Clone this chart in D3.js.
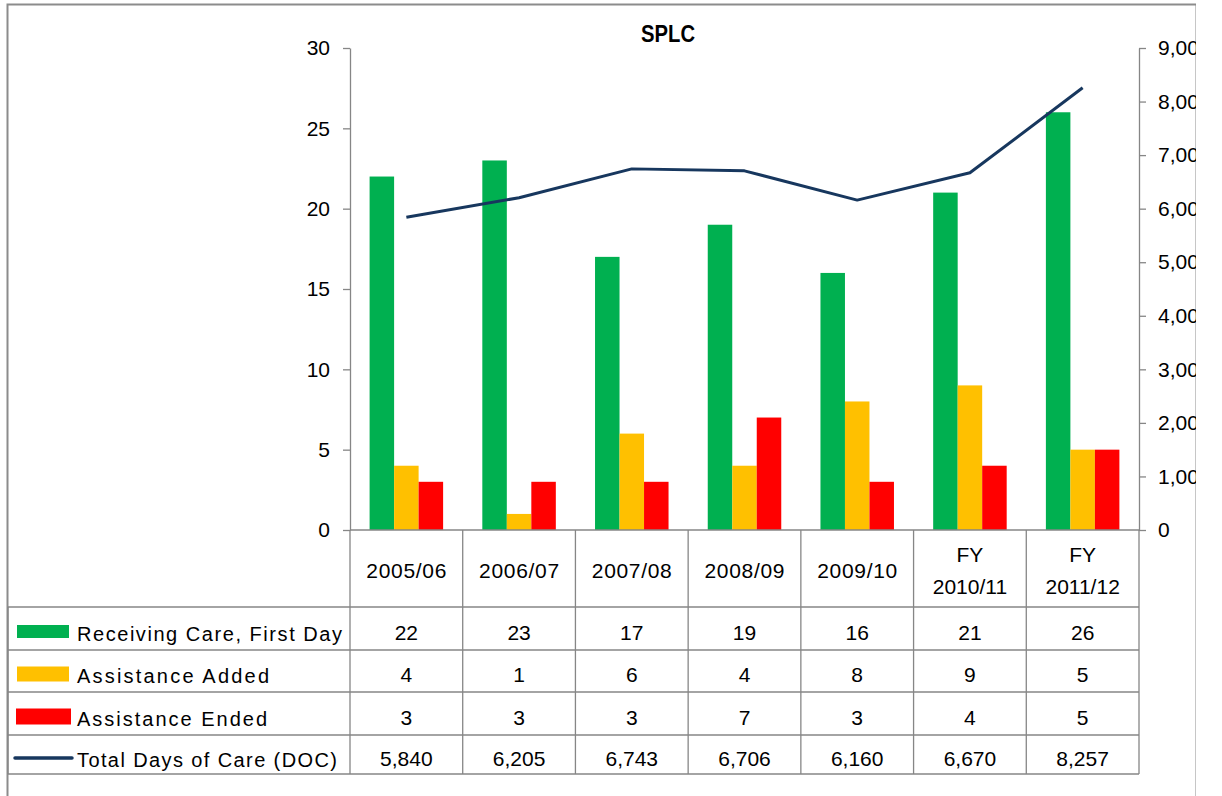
<!DOCTYPE html>
<html>
<head>
<meta charset="utf-8">
<script src="https://cdn.jsdelivr.net/npm/d3@7"></script>
<style>
  html, body { margin: 0; padding: 0; background: #fff; }
  svg { display: block; }
  text { font-family: "Liberation Sans", Arial, sans-serif; fill: #000; }
</style>
</head>
<body>
<svg id="chart" width="1222" height="796"></svg>
<script>
// ---- data ----
const title = "SPLC";
const categories = ["2005/06", "2006/07", "2007/08", "2008/09", "2009/10", "FY\n2010/11", "FY\n2011/12"];
const seriesNames = ["Receiving Care, First Day", "Assistance Added", "Assistance Ended", "Total Days of Care (DOC)"];
const receiving = [22, 23, 17, 19, 16, 21, 26];
const added = [4, 1, 6, 4, 8, 9, 5];
const ended = [3, 3, 3, 7, 3, 4, 5];
const doc = [5840, 6205, 6743, 6706, 6160, 6670, 8257];
const leftTicks = [0, 5, 10, 15, 20, 25, 30];
const rightTicks = [0, 1000, 2000, 3000, 4000, 5000, 6000, 7000, 8000, 9000];
const colors = ["#00B050", "#FFC000", "#FF0000", "#17375E"];

// ---- layout ----
const svg = d3.select("#chart");
const L = 350, R = 1139, T = 48, B = 530;
const rowY = [530, 607, 650, 692, 735, 774];
const tableLeft = 8;
const axisColor = "#868686";

svg.append("defs").append("clipPath").attr("id", "frame")
  .append("rect").attr("x", 0).attr("y", 0).attr("width", 1196).attr("height", 796);

const g = svg.append("g").attr("clip-path", "url(#frame)");

// outer border
g.append("rect").attr("x", 7.5).attr("y", 4.5).attr("width", 1189).attr("height", 900)
  .attr("fill", "none").attr("stroke", "#8c8c8c").attr("stroke-width", 2);

const x = d3.scaleBand().domain(categories).range([L, R]).padding(0);
const x1 = d3.scaleBand().domain([0, 1, 2]).range([0, x.bandwidth()]).paddingInner(0).paddingOuter(0.8);
const yL = d3.scaleLinear().domain([0, 30]).range([B, T]);
const yR = d3.scaleLinear().domain([0, 9000]).range([B, T]);

// title
g.append("text").attr("x", 668).attr("y", 42).attr("text-anchor", "middle")
  .style("font-weight", "bold").style("font-size", "23px")
  .attr("textLength", 54).attr("lengthAdjust", "spacingAndGlyphs").text(title);

// bars
const barSeries = [receiving, added, ended];
barSeries.forEach((vals, si) => {
  g.append("g").selectAll("rect").data(vals).join("rect")
    .attr("x", (d, i) => x(categories[i]) + x1(si))
    .attr("width", x1.bandwidth())
    .attr("y", d => yL(d))
    .attr("height", d => yL(0) - yL(d))
    .attr("fill", colors[si]);
});

// line
const line = d3.line()
  .x((d, i) => x(categories[i]) + x.bandwidth() / 2)
  .y(d => yR(d));
g.append("path").datum(doc).attr("d", line)
  .attr("fill", "none").attr("stroke", colors[3]).attr("stroke-width", 3)
  .attr("stroke-linejoin", "round");

// axes
const axL = g.append("g").attr("transform", `translate(${L},0)`)
  .call(d3.axisLeft(yL).tickValues(leftTicks).tickSize(7).tickSizeOuter(0).tickPadding(13));
const axR = g.append("g").attr("transform", `translate(${R},0)`)
  .call(d3.axisRight(yR).tickValues(rightTicks).tickFormat(d3.format(",")).tickSize(7).tickSizeOuter(0).tickPadding(12));
[axL, axR].forEach(a => {
  a.selectAll("path, line").attr("stroke", axisColor).attr("stroke-width", 1.3);
  a.selectAll("text").style("font-size", "21px").attr("fill", "#000")
    .attr("font-family", "Liberation Sans, Arial, sans-serif");
});

// baseline (category axis)
g.append("line").attr("x1", L).attr("x2", R).attr("y1", B).attr("y2", B)
  .attr("stroke", axisColor).attr("stroke-width", 1.3);

// table grid
const grid = g.append("g").attr("stroke", axisColor).attr("stroke-width", 1.3);
d3.range(categories.length + 1).forEach(i => {
  const xv = i < categories.length ? x(categories[i]) : R;
  grid.append("line").attr("x1", xv).attr("x2", xv).attr("y1", rowY[0]).attr("y2", rowY[5]);
});
grid.append("line").attr("x1", tableLeft).attr("x2", tableLeft).attr("y1", rowY[1]).attr("y2", rowY[5]);
rowY.slice(1).forEach(yv => {
  grid.append("line").attr("x1", tableLeft).attr("x2", R).attr("y1", yv).attr("y2", yv);
});

// header labels
categories.forEach(c => {
  const cx = x(c) + x.bandwidth() / 2;
  const parts = c.split("\n");
  const t = g.append("text").attr("text-anchor", "middle").style("font-size", "21px");
  if (parts.length === 1) {
    t.attr("x", cx).attr("y", 578).attr("textLength", 80).attr("lengthAdjust", "spacing").text(parts[0]);
  } else {
    t.append("tspan").attr("x", cx).attr("y", 562).text(parts[0]);
    t.append("tspan").attr("x", cx).attr("y", 594).text(parts[1]);
  }
});

// table values + legend keys
const tableData = [receiving, added, ended, doc];
const fmt = d3.format(",");
tableData.forEach((vals, ri) => {
  const yMid = (rowY[ri + 1] + rowY[ri + 2]) / 2;
  g.append("g").selectAll("text").data(vals).join("text")
    .attr("x", (d, i) => x(categories[i]) + x.bandwidth() / 2)
    .attr("y", yMid + 11)
    .attr("text-anchor", "middle").style("font-size", "21px")
    .text(d => fmt(d));
  if (ri < 3) {
    const hs = [13, 15, 16][ri];
    const xs = [17, 17, 16][ri], ws = [52, 52, 55][ri];
    g.append("rect").attr("x", xs).attr("y", yMid + 3 - hs / 2).attr("width", ws).attr("height", hs)
      .attr("fill", colors[ri]);
  } else {
    g.append("line").attr("x1", 15).attr("x2", 72).attr("y1", yMid + 3.5).attr("y2", yMid + 3.5)
      .attr("stroke", colors[3]).attr("stroke-width", 3.5).attr("stroke-linecap", "round");
  }
  const labelW = [265, 192, 190, 260][ri];
  g.append("text").attr("x", 77).attr("y", yMid + 12).style("font-size", "20px")
    .attr("textLength", labelW).attr("lengthAdjust", "spacing")
    .text(seriesNames[ri]);
});
</script>
</body>
</html>
